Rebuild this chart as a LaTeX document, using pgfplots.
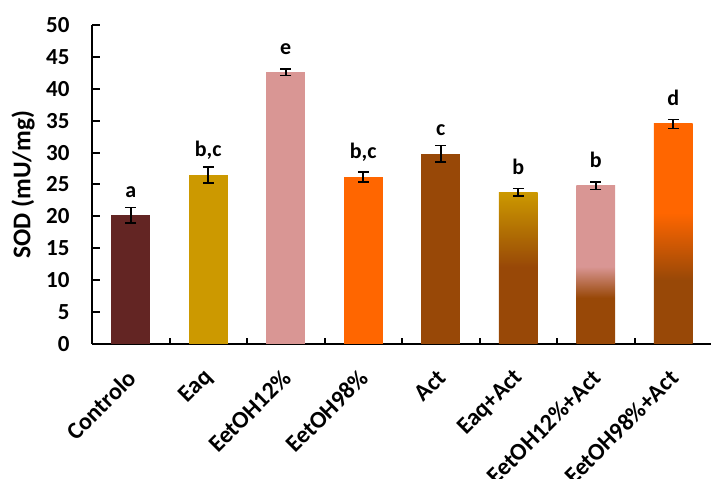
\documentclass[border=0pt]{standalone}
\usepackage{fontspec}
\setmainfont{Carlito}
\usepackage{pgfplots}
\pgfplotsset{compat=1.18}

\definecolor{ctrl}{HTML}{632523}
\definecolor{eaq}{HTML}{CC9900}
\definecolor{eet12}{HTML}{D99694}
\definecolor{eet98}{HTML}{FF6600}
\definecolor{act}{HTML}{984807}

% two-tone fills for the combined treatments (Act at the base, extract on top)
\pgfdeclareverticalshading{eaqact}{100bp}{color(0bp)=(act); color(50.3bp)=(act); color(75bp)=(eaq); color(100bp)=(eaq)}
\pgfdeclareverticalshading{eetdozeact}{100bp}{color(0bp)=(act); color(39.6bp)=(act); color(49.5bp)=(eet12); color(100bp)=(eet12)}
\pgfdeclareverticalshading{eetnoventaact}{100bp}{color(0bp)=(act); color(39.5bp)=(act); color(54.8bp)=(eet98); color(100bp)=(eet98)}

\newcommand{\lblfont}{\bfseries\fontsize{22bp}{26bp}\selectfont}
\newcommand{\tickfont}{\bfseries\fontsize{23bp}{27bp}\selectfont}
\newcommand{\catfont}{\bfseries\fontsize{24bp}{28bp}\selectfont}
\newcommand{\yfont}{\bfseries\fontsize{25.5bp}{29bp}\selectfont}

\begin{document}
\begin{tikzpicture}
\begin{axis}[
  name=ax,
  scale only axis,
  width=620bp, height=319bp,
  xmin=-0.5, xmax=7.5,
  ymin=0, ymax=50,
  clip=false,
  axis x line=bottom, axis y line=left,
  axis line style={-, line width=2.2bp, black},
  tick align=inside,
  ytick={0,5,...,50},
  major tick length=8bp,
  tick style={line width=2bp, black},
  xtick={-0.5,0.5,...,7.5},
  xticklabels={},
  x tick style={/pgfplots/major tick length=6bp},
  extra x ticks={0,1,2,3,4,5,6,7},
  extra x tick labels={Controlo,Eaq,EetOH12\%,EetOH98\%,Act,Eaq+Act,EetOH12\%+Act,EetOH98\%+Act},
  extra x tick style={major tick length=0pt},
  xticklabel style={font=\catfont, xshift=1bp, yshift=-30bp, rotate=45, anchor=east, inner sep=0pt},
  yticklabel style={font=\tickfont, xshift=-19bp},
  /pgf/number format/assume math mode=true,
  ylabel={SOD (mU/mg)},
  every axis y label/.style={at={(axis description cs:0,0.5)}, xshift=-69bp, rotate=90, anchor=center, font=\yfont},
  error bars/y dir=both,
  error bars/y explicit,
  error bars/error bar style={line width=1.6bp, black},
  error bars/error mark options={rotate=90, mark size=5.5bp, line width=1.6bp, black},
  nodes near coords align={anchor=base},
  every node near coord/.append style={font=\lblfont, yshift=18bp, black},
  treat/.style={ybar, bar shift=0pt, bar width=0.5, draw=none},
]
\addplot[treat, fill=ctrl, nodes near coords={a}] coordinates {(0,20.2) +- (0,1.2)};
\addplot[treat, fill=eaq, nodes near coords={b,c}] coordinates {(1,26.5) +- (0,1.25)};
\addplot[treat, fill=eet12, nodes near coords={e}] coordinates {(2,42.6) +- (0,0.5)};
\addplot[treat, fill=eet98, nodes near coords={b,c}] coordinates {(3,26.2) +- (0,0.8)};
\addplot[treat, fill=act, nodes near coords={c}] coordinates {(4,29.8) +- (0,1.3)};
\addplot[treat, shading=eaqact, nodes near coords={b}] coordinates {(5,23.8) +- (0,0.6)};
\addplot[treat, shading=eetdozeact, nodes near coords={b}] coordinates {(6,24.8) +- (0,0.6)};
\addplot[treat, shading=eetnoventaact, nodes near coords={d}] coordinates {(7,34.5) +- (0,0.7)};
\end{axis}
\pgfresetboundingbox
\path ([xshift=-92bp, yshift=-135bp]ax.south west) rectangle ([xshift=-1bp, yshift=25bp]ax.north east);
\end{tikzpicture}
\end{document}
